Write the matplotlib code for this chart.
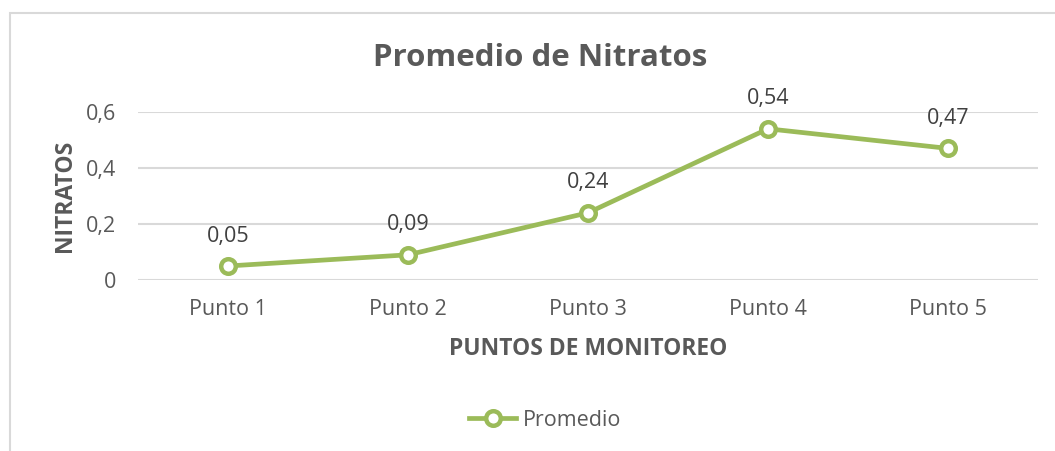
import matplotlib.pyplot as plt
from matplotlib.patches import Rectangle

categories = ["Punto 1", "Punto 2", "Punto 3", "Punto 4", "Punto 5"]
promedio = [0.05, 0.09, 0.24, 0.54, 0.47]
value_labels = ["0,05", "0,09", "0,24", "0,54", "0,47"]
y_ticks = [0, 0.2, 0.4, 0.6]
y_tick_labels = ["0", "0,2", "0,4", "0,6"]

GREEN = "#9BBB59"
TEXT = "#595959"
GRID = "#D9D9D9"

plt.rcParams["font.family"] = ["Open Sans", "DejaVu Sans"]

fig = plt.figure(figsize=(10.55, 4.51), dpi=100)
fig.patches.append(Rectangle((10 / 1055, -0.1), 1.2, (451 - 13) / 451 + 0.1,
                             transform=fig.transFigure, fill=False,
                             edgecolor=GRID, linewidth=1.5))

ax = fig.add_axes([138 / 1055, 171 / 451, 900 / 1055, 168 / 451])
x = list(range(len(categories)))
ax.plot(x, promedio, color=GREEN, linewidth=3.4, marker="o", markersize=10.5,
        markerfacecolor="white", markeredgecolor=GREEN, markeredgewidth=3.2,
        label="Promedio", zorder=3, clip_on=False)
for xi, yi, lab in zip(x, promedio, value_labels):
    ax.annotate(lab, (xi, yi), xytext=(0, 14), textcoords="offset points",
                ha="center", va="bottom", fontsize=15.5, color="#404040")

ax.set_xlim(-0.5, len(categories) - 0.5)
ax.set_ylim(0, 0.6)
ax.set_xticks(x)
ax.set_xticklabels(categories, fontsize=15.5, color=TEXT)
ax.set_yticks(y_ticks)
ax.set_yticklabels(y_tick_labels, fontsize=15.5, color=TEXT)
ax.tick_params(axis="x", length=0, pad=14)
ax.tick_params(axis="y", length=0, pad=16)
ax.grid(axis="y", color=GRID, linewidth=1.5)
ax.set_axisbelow(True)
for s in ax.spines.values():
    s.set_visible(False)

ax.set_xlabel("PUNTOS DE MONITOREO", fontsize=16.5, fontweight="bold", color=TEXT, labelpad=12)
ax.set_ylabel("NITRATOS", fontsize=16.5, fontweight="bold", color=TEXT, labelpad=6)
fig.text(540 / 1055, 1 - 58 / 451, "Promedio de Nitratos", ha="center", va="center",
         fontsize=22.5, fontweight="bold", color=TEXT)

fig.legend(loc="center", bbox_to_anchor=(545 / 1055, 1 - 420 / 451), frameon=False,
           fontsize=15.5, labelcolor=TEXT, handlelength=2.2, handletextpad=0.3)

fig.savefig("out.png", dpi=100)
